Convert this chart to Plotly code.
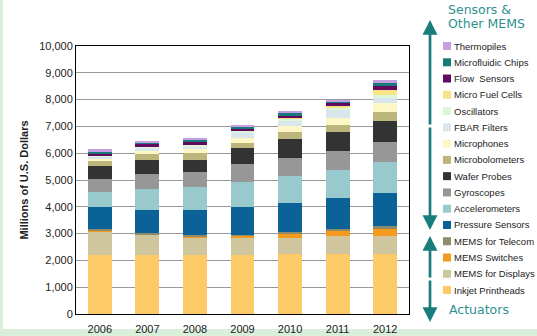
import plotly.graph_objects as go

years = ["2006", "2007", "2008", "2009", "2010", "2011", "2012"]

inkjet_printheads = [2200, 2200, 2200, 2200, 2240, 2235, 2235]
mems_for_displays = [860, 760, 670, 620, 613, 675, 675]
mems_switches = [70, 20, 10, 100, 138, 175, 262]
mems_for_telecom = [30, 30, 80, 20, 60, 100, 112]
pressure_sensors = [815, 888, 938, 1050, 1092, 1160, 1235]
accelerometers = [595, 755, 830, 929, 1001, 1011, 1136]
gyroscopes = [460, 561, 555, 663, 688, 736, 775]
wafer_probes = [487, 527, 458, 601, 689, 687, 786]
microbolometers = [199, 224, 249, 212, 287, 287, 337]
microphones = [64, 125, 150, 188, 213, 250, 325]
fbar_filters = [110, 124, 124, 188, 175, 287, 174]
oscillators = [40, 30, 50, 40, 90, 90, 110]
micro_fuel_cells = [0, 0, 0, 0, 30, 50, 190]
flow_sensors = [70, 100, 110, 120, 80, 130, 150]
microfluidic_chips = [30, 30, 60, 70, 110, 40, 125]
thermopiles = [110, 90, 80, 70, 80, 70, 100]

series = [
    ("Inkjet Printheads", inkjet_printheads, "#fcca66"),
    ("MEMS for Displays", mems_for_displays, "#cfc69e"),
    ("MEMS Switches", mems_switches, "#f49a1e"),
    ("MEMS for Telecom", mems_for_telecom, "#8e8c6a"),
    ("Pressure Sensors", pressure_sensors, "#0a6297"),
    ("Accelerometers", accelerometers, "#98cacd"),
    ("Gyroscopes", gyroscopes, "#979797"),
    ("Wafer Probes", wafer_probes, "#333333"),
    ("Microbolometers", microbolometers, "#bdb67c"),
    ("Microphones", microphones, "#fdf7c6"),
    ("FBAR Filters", fbar_filters, "#d9e6ec"),
    ("Oscillators", oscillators, "#ddf5d8"),
    ("Micro Fuel Cells", micro_fuel_cells, "#f5e384"),
    ("Flow  Sensors", flow_sensors, "#640a5e"),
    ("Microfluidic Chips", microfluidic_chips, "#17797a"),
    ("Thermopiles", thermopiles, "#c4a0e2"),
]

fig = go.Figure()
for name, vals, col in series:
    fig.add_trace(go.Bar(x=years, y=vals, name=name, showlegend=False,
                         marker=dict(color=col, line=dict(width=0))))

W, H = 537, 336
L, R, T, B = 76, 128, 46, 22
pw = W - L - R
ph = H - T - B

def px(x):
    return (x - L) / pw

def py(y):
    return (H - B - y) / ph

teal = "#1a7d7d"
teal_txt = "#2f9090"
tfont = dict(family="DejaVu Sans, Verdana", size=12.5, color=teal_txt)

annotations = [
    dict(x=px(446), y=py(9), xref="paper", yref="paper", xanchor="left", yanchor="middle",
         text="Sensors &", showarrow=False, font=tfont),
    dict(x=px(446), y=py(23), xref="paper", yref="paper", xanchor="left", yanchor="middle",
         text="Other MEMS", showarrow=False, font=tfont),
    dict(x=px(447), y=py(309), xref="paper", yref="paper", xanchor="left", yanchor="middle",
         text="Actuators", showarrow=False, font=tfont),
]
# arrows
for head, tail in [(20, 126), (230, 126), (236, 279), (322, 279)]:
    annotations.append(dict(x=px(430), y=py(head), xref="paper", yref="paper",
                            ax=0, ay=tail - head, axref="pixel", ayref="pixel",
                            text="", showarrow=True, arrowhead=2, arrowsize=1.1,
                            arrowwidth=2.7, arrowcolor=teal))

shapes = [dict(type="rect", xref="paper", yref="paper", x0=px(3), x1=px(600),
               y0=py(329), y1=py(-20), fillcolor="white", line=dict(width=0), layer="below")]

# legend (custom, reversed order: Thermopiles at top)
for i, (name, vals, col) in enumerate(reversed(series)):
    yc = 46 + 16.27 * i
    shapes.append(dict(type="rect", xref="paper", yref="paper",
                       x0=px(443), x1=px(451), y0=py(yc + 4), y1=py(yc - 4),
                       fillcolor=col, line=dict(width=0)))
    annotations.append(dict(x=px(452), y=py(yc), xref="paper", yref="paper",
                            xanchor="left", yanchor="middle", text=name, showarrow=False,
                            font=dict(family="Liberation Sans, Arial", size=9.5, color="#222222")))

fig.update_layout(
    width=W, height=H, autosize=False,
    margin=dict(l=L, r=R, t=T, b=B, pad=0),
    barmode="stack", bargap=0.5,
    paper_bgcolor="#d9eedb", plot_bgcolor="white",
    font=dict(family="Liberation Sans, Arial", size=11, color="#222222"),
    shapes=shapes,
    showlegend=False,
    annotations=annotations,
    xaxis=dict(showline=True, linecolor="black", linewidth=1, mirror=True, ticks="",
               automargin=False, ticklabelstandoff=5,
               tickfont=dict(size=11, color="#222222")),
    yaxis=dict(range=[0, 10000], dtick=1000, tickformat=",", showline=True, linecolor="black",
               linewidth=1, mirror=True, gridcolor="#999999", gridwidth=1, ticks="",
               automargin=False,
               tickfont=dict(size=11, color="#222222"),
               title=dict(text="<b>Millions of U.S. Dollars</b>", font=dict(size=11, color="#222222"), standoff=8)),
)

fig.write_html("out.html")
